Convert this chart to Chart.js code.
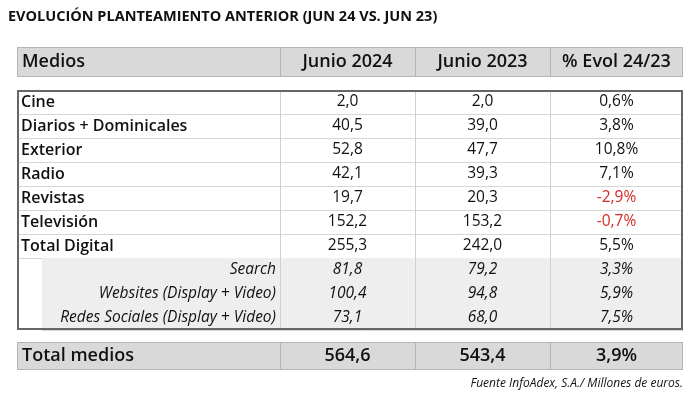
<!DOCTYPE html>
<html>
<head>
<meta charset="utf-8">
<script src="https://cdn.jsdelivr.net/npm/chart.js@4"></script>
<style>
  body { margin: 0; background: #fff; }
  canvas { display: block; }
</style>
</head>
<body>
<canvas id="tabla" width="700" height="402"></canvas>
<script>
// datos de la tabla
const headers = ['Medios', 'Junio 2024', 'Junio 2023', '% Evol 24/23'];
const medios = ['Cine', 'Diarios + Dominicales', 'Exterior', 'Radio', 'Revistas', 'Televisión', 'Total Digital',
                'Search', 'Websites (Display + Video)', 'Redes Sociales (Display + Video)'];
const junio2024 = [2.0, 40.5, 52.8, 42.1, 19.7, 152.2, 255.3, 81.8, 100.4, 73.1];
const junio2023 = [2.0, 39.0, 47.7, 39.3, 20.3, 153.2, 242.0, 79.2, 94.8, 68.0];
const evolucion = [0.6, 3.8, 10.8, 7.1, -2.9, -0.7, 5.5, 3.3, 5.9, 7.5];
const subRows = ['Search', 'Websites (Display + Video)', 'Redes Sociales (Display + Video)'];
const totalLabel = 'Total medios';
const total2024 = 564.6;
const total2023 = 543.4;
const totalEvol = 3.9;

const fmt = v => v.toFixed(1).replace('.', ',');
const fmtPct = v => v.toFixed(1).replace('.', ',') + '%';

// bordes de columnas (en unidades de la escala x)
const colEdges = [0, 263, 398, 533, 666];
// filas (unidades de la escala y): cabecera, cuerpo, total
const headerTop = 0, headerBottom = 30, bodyTop = 43, rowH = 24, totalTop = 295, totalBottom = 323;

const tablePlugin = {
    id: 'tabla',
    afterDraw(chart) {
        const ctx = chart.ctx;
        const xs = chart.scales.x, ys = chart.scales.y;
        const X = v => xs.getPixelForValue(v);
        const Y = v => ys.getPixelForValue(v);
        ctx.save();

        // título
        ctx.fillStyle = '#111';
        ctx.font = 'bold 14.5px "Open Sans"';
        ctx.textBaseline = 'middle';
        ctx.textAlign = 'left';
        ctx.fillText('EVOLUCIÓN PLANTEAMIENTO ANTERIOR (JUN 24 VS. JUN 23)', 8, 17);

        // fila con fondo gris (cabecera y total)
        function greyRow(top, bottom, texts, bold) {
            ctx.fillStyle = '#d9d9d9';
            ctx.fillRect(X(0), Y(top), X(666) - X(0), Y(bottom) - Y(top));
            ctx.strokeStyle = '#b5b5b5';
            ctx.lineWidth = 1;
            ctx.strokeRect(X(0) + 0.5, Y(top) + 0.5, X(666) - X(0) - 1, Y(bottom) - Y(top) - 1);
            for (let i = 1; i < 4; i++) {
                ctx.beginPath();
                ctx.moveTo(X(colEdges[i]) + 0.5, Y(top));
                ctx.lineTo(X(colEdges[i]) + 0.5, Y(bottom));
                ctx.stroke();
            }
            ctx.fillStyle = '#111';
            ctx.font = bold;
            const cy = (Y(top) + Y(bottom)) / 2;
            texts.forEach((t, i) => {
                if (i === 0) { ctx.textAlign = 'left'; ctx.fillText(t, X(colEdges[0]) + 5, cy); }
                else { ctx.textAlign = 'center'; ctx.fillText(t, (X(colEdges[i]) + X(colEdges[i + 1])) / 2, cy); }
            });
        }
        greyRow(headerTop, headerBottom, headers, '600 18px "Open Sans"');

        // cuerpo
        const bodyBottom = bodyTop + rowH * medios.length;
        medios.forEach((m, r) => {
            const top = Y(bodyTop + r * rowH), bot = Y(bodyTop + (r + 1) * rowH);
            const cy = (top + bot) / 2;
            const sub = subRows.includes(m);
            if (sub) {
                ctx.fillStyle = '#eeeeee';
                ctx.fillRect(X(25), top, X(666) - X(25), bot - top);
            }
            ctx.strokeStyle = '#d6d6d6';
            ctx.lineWidth = 1;
            ctx.beginPath();
            ctx.moveTo(X(sub ? 25 : 0), Math.round(bot) + 0.5);
            ctx.lineTo(X(666), Math.round(bot) + 0.5);
            ctx.stroke();

            ctx.fillStyle = '#111';
            if (sub) {
                ctx.font = 'italic 15.5px "Open Sans"';
                ctx.textAlign = 'right';
                ctx.fillText(m, X(colEdges[1]) - 4, cy);
            } else {
                ctx.font = '600 16px "Open Sans"';
                ctx.textAlign = 'left';
                ctx.fillText(m, X(0) + 4, cy);
            }
            const vals = [fmt(junio2024[r]), fmt(junio2023[r]), fmtPct(evolucion[r])];
            ctx.textAlign = 'center';
            ctx.font = (sub ? 'italic ' : '') + '15.5px "Open Sans"';
            vals.forEach((v, i) => {
                ctx.fillStyle = (i === 2 && evolucion[r] < 0) ? '#d42a2a' : '#111';
                ctx.fillText(v, (X(colEdges[i + 1]) + X(colEdges[i + 2])) / 2, cy);
            });
        });
        ctx.strokeStyle = '#d0d0d0';
        for (let i = 1; i < 4; i++) {
            ctx.beginPath();
            ctx.moveTo(X(colEdges[i]) + 0.5, Y(bodyTop));
            ctx.lineTo(X(colEdges[i]) + 0.5, Y(bodyBottom));
            ctx.stroke();
        }
        ctx.strokeStyle = '#666';
        ctx.lineWidth = 2;
        ctx.strokeRect(X(0) + 1, Y(bodyTop) + 1, X(666) - X(0) - 2, Y(bodyBottom) - Y(bodyTop) - 2);

        // total
        greyRow(totalTop, totalBottom, [totalLabel, fmt(total2024), fmt(total2023), fmtPct(totalEvol)], '600 18px "Open Sans"');

        // fuente
        ctx.fillStyle = '#111';
        ctx.font = 'italic 12px "Open Sans"';
        ctx.textAlign = 'right';
        ctx.fillText('Fuente InfoAdex, S.A./ Millones de euros.', 683, 384);
        ctx.restore();
    }
};

new Chart(document.getElementById('tabla'), {
    type: 'scatter',
    data: { datasets: [{ data: [] }] },
    options: {
        responsive: false,
        animation: false,
        devicePixelRatio: 1,
        layout: { padding: { left: 17, right: 17, top: 47, bottom: 32 } },
        plugins: { legend: { display: false }, tooltip: { enabled: false } },
        scales: {
            x: { type: 'linear', min: 0, max: 666, display: false },
            y: { type: 'linear', min: 0, max: 323, reverse: true, display: false }
        }
    },
    plugins: [tablePlugin]
});
</script>
</body>
</html>
